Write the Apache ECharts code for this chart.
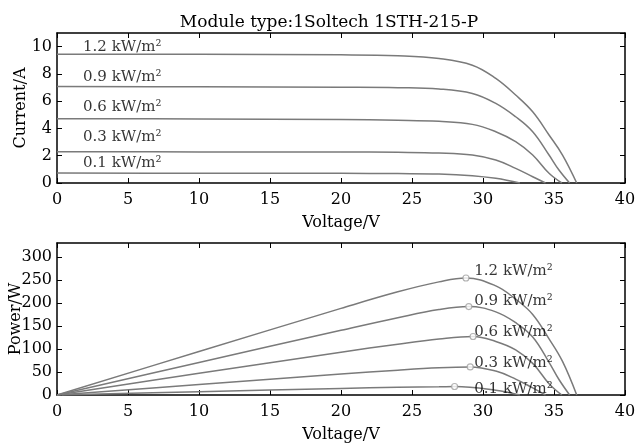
<!DOCTYPE html>
<html>
<head>
<meta charset="utf-8">
<script src="https://cdn.jsdelivr.net/npm/echarts@6/dist/echarts.min.js"></script>
<style>
  html, body { margin: 0; padding: 0; background: #fff; }
  #chart { width: 638px; height: 445px; }
</style>
</head>
<body>
<div id="chart"></div>
<script>
// irradiance levels, kW/m2
const irradiance = ['1.2', '0.9', '0.6', '0.3', '0.1']

// I-V curves [voltage, current]
const ivCurves = [
  [[0, 9.45], [10, 9.44], [20, 9.4], [24, 9.33], [26.9, 9.13], [29.25, 8.64], [30.9, 7.67], [32.3, 6.45], [33.5, 5.22], [34.65, 3.52], [35.6, 2.05], [36.6, 0]],
  [[0, 7.07], [10, 7.06], [20, 7.02], [24, 6.99], [26.9, 6.9], [29.25, 6.57], [30.9, 5.84], [32.3, 4.86], [33.5, 3.76], [34.65, 2.05], [35.35, 0.95], [36.1, 0]],
  [[0, 4.71], [10, 4.7], [20, 4.65], [24, 4.6], [26.9, 4.52], [29.25, 4.3], [30.9, 3.76], [32.3, 3.03], [33.5, 2.05], [34.65, 0.71], [35.55, 0]],
  [[0, 2.29], [10, 2.28], [20, 2.27], [24, 2.25], [26.9, 2.2], [29.25, 2.05], [30.9, 1.68], [32.3, 1.07], [33.5, 0.46], [34.4, 0]],
  [[0, 0.73], [10, 0.72], [20, 0.71], [24, 0.69], [26.9, 0.66], [29.25, 0.54], [30.9, 0.34], [32.6, 0]]
]

// P-V curves [voltage, power]
const pvCurves = [
  [[0, 0], [10, 94.4], [20, 188], [24, 224], [26.9, 245.6], [28.8, 254], [30.9, 237], [32.3, 208], [33.5, 175], [34.65, 122], [35.6, 73], [36.6, 0]],
  [[0, 0], [10, 70.6], [20, 140.4], [24, 167.8], [26.9, 185.6], [29, 192], [30.9, 180.5], [32.3, 157], [33.5, 126], [34.65, 71], [35.35, 33.6], [36.1, 0]],
  [[0, 0], [10, 47], [20, 93], [24, 110.4], [26.9, 121.6], [29.3, 127], [30.9, 116.2], [32.3, 97.9], [33.5, 68.7], [34.65, 24.6], [35.55, 0]],
  [[0, 0], [10, 22.8], [20, 45.4], [24, 54], [26.9, 59.2], [29.1, 61], [30.9, 51.9], [32.3, 34.6], [33.5, 15.4], [34.4, 0]],
  [[0, 0], [10, 7.2], [20, 14.2], [24, 16.6], [26.9, 17.8], [28, 18.5], [30.9, 10.5], [32.6, 0]]
]

// maximum power points
const mpp = [[28.8, 254], [29, 192], [29.3, 127], [29.1, 61], [28, 18.5]]

// where the irradiance labels sit (data coords)
const ivLabelAt = [[1.8, 10.0], [1.8, 7.8], [1.8, 5.55], [1.8, 3.35], [1.8, 1.45]]
const pvLabelAt = [[29.35, 270], [29.35, 204], [29.35, 136], [29.35, 69], [29.35, 12]]

const serif = 'DejaVu Serif'
const lineColor = '#7a7a7a'

let chart = echarts.init(document.getElementById('chart'))

let axisLine = { show: true, onZero: false, lineStyle: { color: '#000', width: 1.5 } }
let tick = { show: true, inside: true, length: 5, lineStyle: { color: '#000', width: 1 } }
let tickLabel = { color: '#000', fontFamily: serif, fontSize: 16 }
let nameStyle = { fontFamily: serif, fontSize: 16, color: '#000' }

function xAxes (gridIndex) {
  return [
    {
      gridIndex, type: 'value', min: 0, max: 40, interval: 5,
      name: 'Voltage/V', nameLocation: 'middle', nameGap: 32, nameMoveOverlap: false,
      nameTextStyle: nameStyle,
      axisLine, axisTick: tick, splitLine: { show: false },
      axisLabel: Object.assign({ margin: 9 }, tickLabel)
    },
    {
      gridIndex, type: 'value', min: 0, max: 40, interval: 5, position: 'top',
      axisLine, axisTick: tick, axisLabel: { show: false }, splitLine: { show: false }
    }
  ]
}

function yAxes (gridIndex, max, interval, name, gap) {
  return [
    {
      gridIndex, type: 'value', min: 0, max, interval,
      name, nameLocation: 'middle', nameGap: gap, nameMoveOverlap: false,
      nameTextStyle: nameStyle,
      axisLine, axisTick: tick, splitLine: { show: false },
      axisLabel: Object.assign({ margin: 5, showMaxLabel: false }, tickLabel)
    },
    {
      gridIndex, type: 'value', min: 0, max, interval, position: 'right',
      axisLine, axisTick: tick, axisLabel: { show: false }, splitLine: { show: false }
    }
  ]
}

let series = []
ivCurves.forEach((data) => {
  series.push({
    type: 'line', xAxisIndex: 0, yAxisIndex: 0, data,
    smooth: 0.4, symbol: 'none',
    lineStyle: { color: lineColor, width: 1.5 }, silent: true
  })
})
pvCurves.forEach((data) => {
  series.push({
    type: 'line', xAxisIndex: 2, yAxisIndex: 2, data,
    smooth: 0.4, symbol: 'none',
    lineStyle: { color: lineColor, width: 1.5 }, silent: true
  })
})
series.push({
  type: 'scatter', xAxisIndex: 2, yAxisIndex: 2, data: mpp,
  symbol: 'circle', symbolSize: 6, z: 3,
  itemStyle: { color: '#fff', borderColor: '#a0a0a0', borderWidth: 1.2 }, silent: true
})

function labelSeries (xi, yi, pos) {
  return {
    type: 'scatter', xAxisIndex: xi, yAxisIndex: yi, z: 4,
    data: pos.map((p, i) => ({ value: p, name: irradiance[i] })),
    symbolSize: 1, itemStyle: { color: 'rgba(0,0,0,0)' }, silent: true,
    label: {
      show: true, position: 'right', distance: 0,
      formatter: p => `${p.name} kW/m²`,
      fontFamily: serif, fontSize: 15, color: '#000'
    }
  }
}
series.push(labelSeries(0, 0, ivLabelAt))
series.push(labelSeries(2, 2, pvLabelAt))

chart.setOption({
  animation: false,
  title: {
    text: 'Module type:1Soltech 1STH-215-P',
    left: 324, top: 9, textAlign: 'center',
    textStyle: { fontFamily: serif, fontSize: 17, fontWeight: 'normal', color: '#000' }
  },
  grid: [
    { left: 57, right: 13, top: 33, height: 150, outerBoundsMode: 'none' },
    { left: 57, right: 13, top: 243, height: 152, outerBoundsMode: 'none' }
  ],
  xAxis: xAxes(0).concat(xAxes(1)),
  yAxis: yAxes(0, 11, 2, 'Current/A', 28).concat(yAxes(1, 330, 50, 'Power/W', 33)),
  series
})
</script>
</body>
</html>
